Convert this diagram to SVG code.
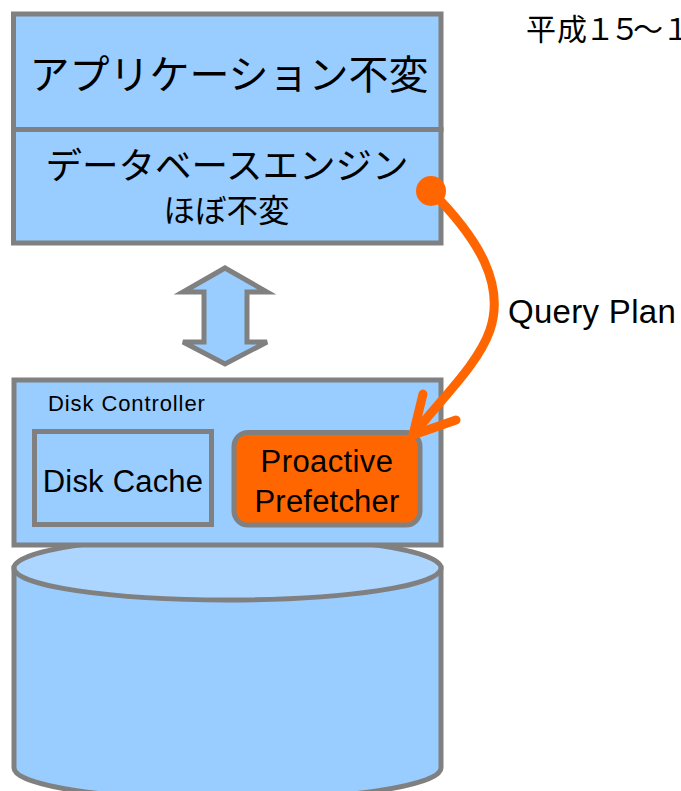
<svg xmlns="http://www.w3.org/2000/svg" width="681" height="791" viewBox="0 0 681 791">
  <style>
    .box { fill: #99ccff; stroke: #808080; stroke-width: 5; }
    .jp { font-family: "Noto Sans CJK JP", "Liberation Sans", sans-serif; fill: #000; }
    .en { font-family: "Liberation Sans", "DejaVu Sans", sans-serif; fill: #000; }
    .plan { fill: none; stroke: #ff6600; stroke-width: 9; stroke-linecap: round; stroke-linejoin: round; }
  </style>
  <rect width="681" height="791" fill="#ffffff"/>

  <!-- period caption, runs off the right edge -->
  <text class="jp" font-size="30" x="526 557 585 610 633 662" y="40">平成１５～１</text>

  <!-- disk cylinder -->
  <g id="disk">
    <path class="box" d="M14,568 L14,768 A213.5,32 0 0 0 441,768 L441,568 Z"/>
    <ellipse cx="227.5" cy="568" rx="213.5" ry="32" fill="#acd6ff" stroke="#808080" stroke-width="5"/>
  </g>

  <!-- host software stack -->
  <g id="application">
    <rect class="box" x="13.5" y="14" width="427.5" height="115.5"/>
    <text class="jp" font-size="40" x="229" y="89" text-anchor="middle">アプリケーション不変</text>
  </g>
  <g id="db-engine">
    <rect class="box" x="13.5" y="129.5" width="427.5" height="113.5"/>
    <text class="jp" font-size="36.5" x="227" y="179" text-anchor="middle">データベースエンジン</text>
    <text class="jp" font-size="31.5" x="226.5" y="222" text-anchor="middle">ほぼ不変</text>
  </g>

  <!-- bidirectional transfer arrow -->
  <g id="io-arrow">
    <polygon class="box" stroke-linejoin="miter" points="225,268 267,292 247,292 247,342 267,342 225,364 183,342 204,342 204,292 183,292"/>
  </g>

  <!-- disk controller -->
  <g id="disk-controller">
    <rect class="box" x="14" y="380" width="427" height="165"/>
    <text class="en" font-size="22" x="48" y="411" letter-spacing="0.9">Disk Controller</text>
  </g>
  <g id="disk-cache">
    <rect class="box" x="34.5" y="431.5" width="177" height="93"/>
    <text class="en" font-size="31" x="123" y="492" text-anchor="middle" letter-spacing="0.2">Disk Cache</text>
  </g>
  <g id="prefetcher">
    <rect x="234" y="432.5" width="186" height="92.5" rx="14" fill="#ff6600" stroke="#808080" stroke-width="5"/>
    <text class="en" font-size="31" x="327" y="472" text-anchor="middle" letter-spacing="0.4">Proactive</text>
    <text class="en" font-size="31" x="327" y="512" text-anchor="middle" letter-spacing="0.2">Prefetcher</text>
  </g>

  <!-- query plan hand-off -->
  <g id="connectors">
    <circle cx="431" cy="191" r="15" fill="#ff6600"/>
    <path class="plan" d="M431,191 C480,240 505,285 490,330 C478,365 440,400 413,435"/>
    <path class="plan" d="M423,394 L413,435 L456,420"/>
    <text class="en" font-size="33" x="508" y="323" letter-spacing="0.3">Query Plan</text>
  </g>
</svg>
